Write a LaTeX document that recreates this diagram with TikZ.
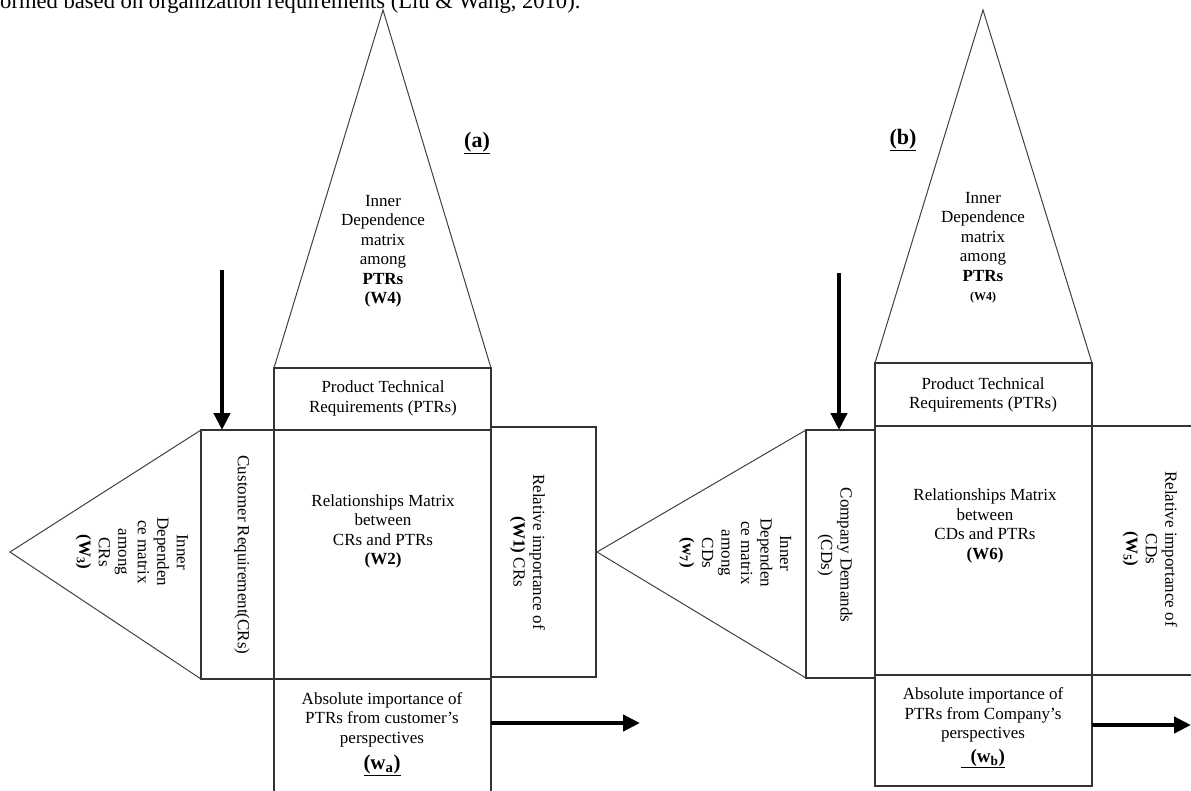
\documentclass[tikz,border=0pt]{standalone}
\usepackage{fontspec}
\setmainfont{Liberation Serif}
\usetikzlibrary{arrows.meta}
\tikzset{
  box/.style={draw=black!80, line width=1.3pt, inner sep=0pt, outer sep=0pt, rectangle},
  tri/.style={draw=black!75, line width=1pt, line join=miter},
  txt/.style={align=center, inner sep=0pt, font=\fontsize{17}{19.5}\selectfont},
  vtxt/.style={txt, rotate=-90},
  bigarrow/.style={line width=4.5pt, -{Triangle[length=17pt,width=16pt]}},
  panellabel/.style={inner sep=0pt, font=\fontsize{22}{26}\selectfont\bfseries}
}
\begin{document}
\begin{tikzpicture}[x=1pt,y=-1pt]
\useasboundingbox (0,0) rectangle (1191,790);
% cut-off line of page text
\node[anchor=base west, inner sep=0pt, font=\fontsize{22.6}{27}\selectfont] (pagetext) at (-7.5,8) {formed based on organization requirements (Liu \& Wang, 2010).};

% ---------------- panel (a) ----------------
\node[box, minimum width=217, minimum height=62]  (ptrA) at (382.5,399) {};
\node[box, minimum width=217, minimum height=249] (matA) at (382.5,554.5) {};
\node[box, minimum width=217, minimum height=121] (absA) at (382.5,739.5) {};
\node[box, minimum width=73,  minimum height=249] (crA)  at (237.5,554.5) {};
\node[box, minimum width=105, minimum height=250] (relA) at (543.5,552) {};
\coordinate (apexTopA) at (383,10);
\coordinate (apexLeftA) at (10,552);
\draw[tri] (ptrA.north west) -- (apexTopA) -- (ptrA.north east);
\draw[tri] (crA.north west) -- (apexLeftA) -- (crA.south west);

\node[txt] (tTopA) at (383,251) {Inner\\Dependence\\matrix\\among\\\textbf{PTRs}\\\textbf{(W4)}};
\node[vtxt] (tLeftA) at (132,552) {Inner\\Dependen\\ce matrix\\among\\CRs\\\textbf{(W\textsubscript{3})}};
\node[vtxt] (tCrA) at (242,555) {Customer Requirement(CRs)};
\node[vtxt] (tRelA) at (527.5,552) {Relative importance of\\\textbf{(W1)} CRs};
\node[txt] (tMatA) at (383,531.5) {Relationships Matrix\\between\\CRs and PTRs\\\textbf{(W2)}};
\node[txt] (tPtrA) at (383,398.5) {Product Technical\\Requirements (PTRs)};
\node[txt] (tAbsA) at (382,734) {Absolute importance of\\PTRs from customer’s\\perspectives\\[7pt]{\fontsize{21}{25}\selectfont\bfseries\underline{(w\textsubscript{a})}}};
\node[panellabel] (labA) at (477,143) {\underline{(a)}};

\coordinate (arrTopA) at (222,270);
\draw[bigarrow] (arrTopA) -- (arrTopA |- crA.north);
\coordinate (arrEndA) at (640,723);
\draw[bigarrow] (absA.east |- arrEndA) -- (arrEndA);

% ---------------- panel (b) ----------------
\node[box, minimum width=217, minimum height=63]  (ptrB) at (983.5,394.5) {};
\node[box, minimum width=217, minimum height=249] (matB) at (983.5,550.5) {};
\node[box, minimum width=217, minimum height=111] (absB) at (983.5,730.5) {};
\node[box, minimum width=69,  minimum height=248] (cdB)  at (840.5,554) {};
\node[box, minimum width=118, minimum height=249] (relB) at (1151,550.5) {};
\coordinate (apexTopB) at (983,10);
\coordinate (apexLeftB) at (597,552);
\draw[tri] (ptrB.north west) -- (apexTopB) -- (ptrB.north east);
\draw[tri] (cdB.north west) -- (apexLeftB) -- (cdB.south west);

\node[txt] (tTopB) at (983,247.5) {Inner\\Dependence\\matrix\\among\\\textbf{PTRs}\\{\fontsize{12}{14}\selectfont\bfseries (W4)}};
\node[vtxt] (tLeftB) at (735,553) {Inner\\Dependen\\ce matrix\\among\\CDs\\\textbf{(w\textsubscript{7})}};
\node[vtxt] (tCdB) at (835,555) {Company Demands\\(CDs)};
\node[vtxt] (tRelB) at (1150,549) {Relative importance of\\CDs\\\textbf{(W\textsubscript{5})}};
\node[txt] (tMatB) at (985,526) {Relationships Matrix\\between\\CDs and PTRs\\\textbf{(W6)}};
\node[txt] (tPtrB) at (983,395) {Product Technical\\Requirements (PTRs)};
\node[txt] (tAbsB) at (983,728) {Absolute importance of\\PTRs from Company’s\\perspectives\\[4pt]{\fontsize{19}{23}\selectfont\bfseries\underline{\ \ (w\textsubscript{b})}}};
\node[panellabel] (labB) at (903,140) {\underline{(b)}};

\coordinate (arrTopB) at (839,273);
\draw[bigarrow] (arrTopB) -- (arrTopB |- cdB.north);
\coordinate (arrEndB) at (1191,725);
\draw[bigarrow] (absB.east |- arrEndB) -- (arrEndB);
\end{tikzpicture}
\end{document}
